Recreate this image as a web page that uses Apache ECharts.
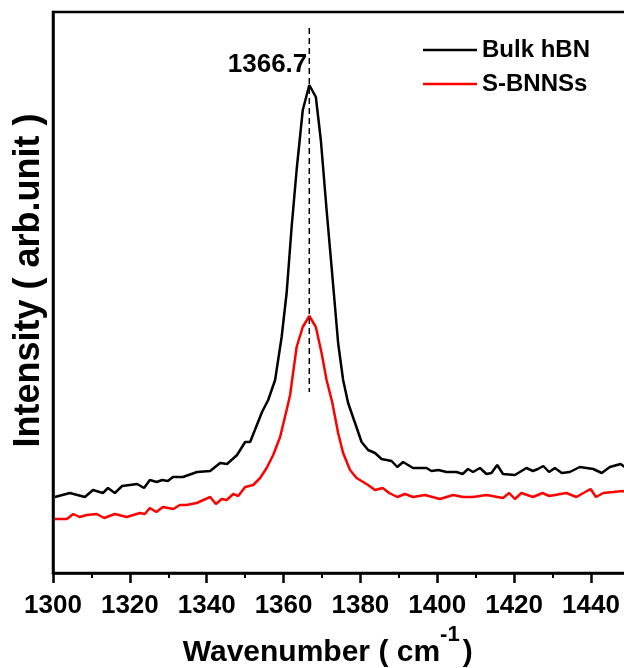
<!DOCTYPE html>
<html>
<head>
<meta charset="utf-8">
<script src="https://cdn.jsdelivr.net/npm/echarts@6/dist/echarts.min.js"></script>
<style>html,body{margin:0;padding:0;background:#fff;overflow:hidden}#c{width:632px;height:668px}</style>
</head>
<body>
<div id="c"></div>
<script>
// Raman spectra, intensity in arbitrary units
const bulkX = [1300.5,1304.4,1308.3,1310.4,1313,1314.3,1316.1,1318,1321.9,1323.7,1325.2,1327,1328.4,1329.9,1331.2,1333.8,1337.5,1340.9,1343.5,1345.3,1347.9,1350,1351.3,1354.4,1356,1357.8,1359.5,1360.8,1362.1,1363.4,1365,1366.7,1368.4,1369.7,1371.2,1372.5,1374.2,1375.5,1376.8,1378.6,1380.3,1382,1383.8,1385.5,1388.1,1389.6,1391.1,1393.7,1397.2,1398.5,1400.3,1402.4,1405,1406.6,1408,1409.3,1411.1,1412.8,1414.1,1415.6,1417.1,1420.2,1423.2,1424.9,1426.2,1427.6,1429.1,1430.6,1432.4,1434.5,1437.1,1440.6,1442.8,1444.9,1447.7,1449.5];
const bulkY = [76,80,76,83,80,85,80,87,89,85,93,91,93,92,96,96,101,102,110,109,118,131,131,161,173,193,236,280,346,403,463,488,476,433,363,306,230,193,170,150,131,123,120,114,112,106,111,105,105,102,103,101,101,99,104,101,105,99,100,108,99,98,105,102,104,107,101,105,100,101,106,104,100,106,109,104];
const sbnX = [1300.5,1303.6,1305.3,1306.9,1308.8,1311.4,1313.3,1316.1,1319.2,1322.6,1323.9,1325.2,1326.9,1328.6,1331.3,1333,1334.7,1337.4,1340.9,1342.4,1343.9,1345.2,1346.9,1348.2,1350,1352.1,1353.9,1355.6,1357.3,1359.1,1360.8,1361.7,1363.4,1365,1366.7,1368.4,1369.9,1371.2,1372.7,1374.2,1375.5,1377.3,1379,1382,1383.8,1385.8,1387.5,1389.6,1391.6,1393.7,1396.8,1400.7,1404.1,1406.7,1409.3,1412.8,1417.1,1418.7,1420.2,1421.9,1424.9,1427.4,1429.1,1433.6,1436.2,1439.9,1441.3,1443.2,1445.8,1448.2,1449.5];
const sbnY = [54,54,59,56,58,59,55,59,56,60,59,65,61,66,64,68,68,70,76,69,74,73,79,77,86,88,95,105,118,136,163,178,226,246,257,246,220,193,170,140,120,103,95,88,83,85,80,76,79,76,78,74,78,76,76,78,75,80,74,80,76,80,77,80,76,84,76,80,81,82,81];
const peakPos = 1366.7;
const peakLineY = [545, 181];
const peakLabelY = 508;
const xTicks = [1300,1320,1340,1360,1380,1400,1420,1440];
const seriesNames = ['Bulk hBN','S-BNNSs'];

const zip = (xs, ys) => xs.map((x, i) => [x, ys[i]]);
const F = "'Liberation Sans', Arial, sans-serif";

const chart = echarts.init(document.getElementById('c'));
chart.setOption({
  animation: false,
  backgroundColor: '#fff',
  grid: {left: 53, top: 12, right: 2.6, bottom: 95, show: true, borderColor: '#000', borderWidth: 2.5, outerBoundsMode: 'none', containLabel: false},
  legend: {
    data: seriesNames.map(n => ({name: n, icon: 'rect'})),
    orient: 'vertical', left: 418, top: 32,
    itemWidth: 54, itemHeight: 2.5, itemGap: 8,
    textStyle: {fontFamily: F, fontWeight: 'bold', fontSize: 24, color: '#000', lineHeight: 26}
  },
  xAxis: {
    type: 'value', min: 1300, max: 1450, interval: 20,
    name: '{a|Wavenumber ( cm}{s|-1}{a|)}',
    nameLocation: 'middle', nameGap: 46,
    nameTextStyle: {
      fontFamily: F, fontWeight: 'bold', color: '#000', padding: [0, 27, 0, 0],
      rich: {
        a: {fontFamily: F, fontWeight: 'bold', fontSize: 30, color: '#000', lineHeight: 44, verticalAlign: 'bottom'},
        s: {fontFamily: F, fontWeight: 'bold', fontSize: 22, color: '#000', lineHeight: 22, verticalAlign: 'top', padding: [0, 3, 0, 0]}
      }
    },
    axisLine: {show: true, lineStyle: {color: '#000', width: 2.5}},
    axisTick: {show: true, length: 10, lineStyle: {color: '#000', width: 2.5}},
    minorTick: {show: true, splitNumber: 2, length: 5, lineStyle: {color: '#000', width: 2}},
    splitLine: {show: false},
    axisLabel: {
      fontFamily: F, fontWeight: 'bold', fontSize: 26, color: '#000', margin: 20,
      formatter: v => xTicks.includes(v) ? String(v) : ''
    }
  },
  yAxis: {
    type: 'value', min: 0, max: 561,
    name: 'Intensity ( arb.unit )', nameLocation: 'middle', nameGap: 6,
    nameTextStyle: {fontFamily: F, fontWeight: 'bold', fontSize: 36, color: '#000', padding: [0, 0, 0, 24]},
    axisLine: {show: true, lineStyle: {color: '#000', width: 2.5}},
    axisTick: {show: false}, axisLabel: {show: false}, splitLine: {show: false}
  },
  series: [
    {name: seriesNames[0], type: 'line', data: zip(bulkX, bulkY), showSymbol: false, lineStyle: {color: '#000', width: 2.5}, itemStyle: {color: '#000'}},
    {name: seriesNames[1], type: 'line', data: zip(sbnX, sbnY), showSymbol: false, lineStyle: {color: '#ff0000', width: 2.5}, itemStyle: {color: '#ff0000'}},
    {name: 'peak', type: 'line', data: peakLineY.map(y => [peakPos, y]), showSymbol: false, lineStyle: {color: '#000', width: 1.5, type: [6, 4]}, silent: true},
    {name: 'peakLabel', type: 'scatter', data: [[peakPos, peakLabelY]], symbolSize: 0, silent: true, itemStyle: {color: '#000', opacity: 1},
      label: {show: true, position: 'left', distance: 2, opacity: 1, formatter: '{p|' + peakPos + '}',
        rich: {p: {fontFamily: F, fontWeight: 'bold', fontSize: 26, color: '#000'}}}}
  ]
});
</script>
</body>
</html>
